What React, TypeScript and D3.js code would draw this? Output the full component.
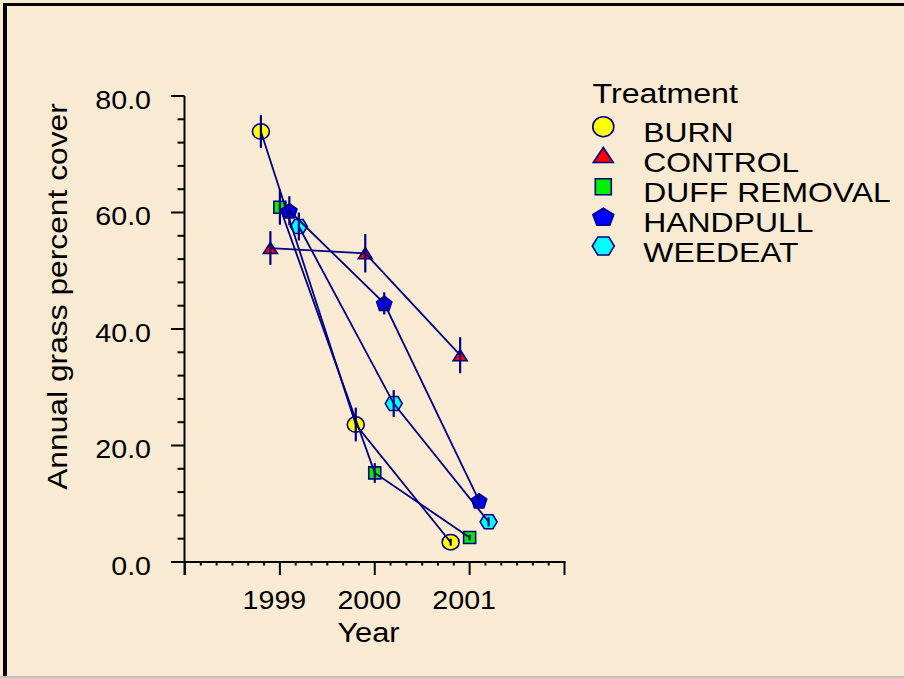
import React from "react";
import * as d3 from "d3";

const years = [1999, 2000, 2001];
const treatments = ["BURN", "CONTROL", "DUFF REMOVAL", "HANDPULL", "WEEDEAT"];
const burnMeans = [73.9, 23.6, 3.4];
const controlMeans = [53.9, 53.0, 35.5];
const duffMeans = [60.9, 15.3, 4.2];
const handpullMeans = [60.3, 44.4, 10.5];
const weedeatMeans = [57.6, 27.2, 6.9];
const burnErr = [2.8, 2.9, 0.6];
const controlErr = [2.9, 3.3, 3.1];
const duffErr = [3.0, 1.7, 0.5];
const handpullErr = [2.5, 1.9, 0.8];
const weedeatErr = [2.4, 2.3, 0.8];
const yTicks = [0, 20, 40, 60, 80];
const xTicks = [1998, 1999, 2000, 2001, 2002];

const means = [burnMeans, controlMeans, duffMeans, handpullMeans, weedeatMeans];
const errs = [burnErr, controlErr, duffErr, handpullErr, weedeatErr];
const fills = ["#FFFF00", "#FF0000", "#00F000", "#0000FF", "#00FFFF"];
const dodge = [-0.2, -0.1, 0, 0.1, 0.2];
const NAVY = "#000080";
const FONT = "'Liberation Sans', Arial, Helvetica, sans-serif";

const x = d3.scaleLinear().domain([1998, 2002]).range([185, 564.5]);
const y = d3.scaleLinear().domain([0, 80]).range([562, 96]);

function markerPath(kind: number, w: number, h: number): string {
  const hw = w / 2, hh = h / 2;
  if (kind === 1) return `M0,${-hh}L${hw},${hh}L${-hw},${hh}Z`;
  if (kind === 2) return `M${-hw},${-hh}H${hw}V${hh}H${-hw}Z`;
  if (kind === 3) {
    const pts = d3.range(5).map((i) => {
      const a = -Math.PI / 2 + (i * 2 * Math.PI) / 5;
      return [Math.cos(a) * hw, Math.sin(a) * hh * 1.05 + hh * 0.1];
    });
    return "M" + pts.map((p) => p.join(",")).join("L") + "Z";
  }
  if (kind === 4) {
    return `M${-hw},0L${-hw / 2},${-hh}L${hw / 2},${-hh}L${hw},0L${hw / 2},${hh}L${-hw / 2},${hh}Z`;
  }
  return "";
}

function Marker({ kind, cx, cy, big }: { kind: number; cx: number; cy: number; big?: boolean }) {
  const sizes = big
    ? [[21, 20], [20, 15], [16, 16], [22, 18], [22, 18]]
    : [[17, 15.5], [14, 11], [12, 12], [16, 15], [17, 14]];
  const [w, h] = sizes[kind];
  if (kind === 0)
    return <ellipse cx={cx} cy={cy} rx={w / 2} ry={h / 2} fill={fills[0]} stroke={NAVY} strokeWidth={1.6} />;
  return (
    <path d={markerPath(kind, w, h)} transform={`translate(${cx},${cy})`} fill={fills[kind]} stroke={NAVY} strokeWidth={1.6} strokeLinejoin="miter" />
  );
}

function T({ x: tx, y: ty, size, sx, anchor, rotate, children }: any) {
  return (
    <text
      transform={`translate(${tx},${ty})${rotate ? " rotate(-90)" : ""} scale(${sx},1)`}
      fontSize={size}
      fontFamily={FONT}
      textAnchor={anchor || "start"}
      fill="#000"
    >
      {children}
    </text>
  );
}

export default function App() {
  const line = d3.line<[number, number]>().x((d) => d[0]).y((d) => d[1]);
  const minorY = d3.range(0, 80.001, 4).filter((v) => v % 20 !== 0);
  const minorX = d3.range(1998, 2002.001, 1 / 6).filter((v) => Math.abs(v - Math.round(v)) > 0.01);
  const legendY = [126.7, 155, 186.7, 216.7, 246];
  const legendBase = [142.3, 171.8, 201.7, 231.7, 261.7];

  return (
    <svg width={904} height={678} style={{ position: "absolute", left: 0, top: 0 }}>
      <rect x={0} y={0} width={904} height={678} fill="#F9EBD3" />
      <rect x={0} y={676} width={904} height={2} fill="#C0C0C0" />
      <rect x={3} y={3} width={901} height={3} fill="#000" />
      <rect x={3} y={3} width={4} height={673} fill="#000" />

      {/* axes */}
      <g stroke="#000" strokeWidth={2} fill="none">
        <line x1={184.5} x2={184.5} y1={y(80)} y2={y(0) + 13} />
        <line x1={171} x2={x(2002) + 1} y1={y(0)} y2={y(0)} />
        {yTicks.map((v) => (
          <line key={"yt" + v} x1={171} x2={184.5} y1={y(v)} y2={y(v)} />
        ))}
        {minorY.map((v) => (
          <line key={"ym" + v} x1={177.5} x2={184.5} y1={y(v)} y2={y(v)} />
        ))}
        {xTicks.map((v) => (
          <line key={"xt" + v} x1={x(v)} x2={x(v)} y1={y(0)} y2={y(0) + 13} />
        ))}
        {minorX.map((v, i) => (
          <line key={"xm" + i} x1={x(v)} x2={x(v)} y1={y(0)} y2={y(0) + 3.5} />
        ))}
      </g>

      {yTicks.map((v) => (
        <T key={"yl" + v} x={151} y={y(v) + 12.5} size={26} sx={1.1} anchor="end">
          {d3.format(".1f")(v)}
        </T>
      ))}
      {years.map((v) => (
        <T key={"xl" + v} x={x(v) - 5.5} y={609} size={26} sx={1.1} anchor="middle">
          {String(v)}
        </T>
      ))}
      <T x={368.5} y={641.5} size={28} sx={1.1} anchor="middle">Year</T>
      <T x={67} y={296.5} size={28} sx={1.135} anchor="middle" rotate>
        Annual grass percent cover
      </T>

      {/* markers */}
      {means.map((ser, k) =>
        ser.map((v, i) => <Marker key={`m${k}-${i}`} kind={k} cx={x(years[i] + dodge[k])} cy={y(v)} />)
      )}
      {/* lines and error bars */}
      <g stroke={NAVY} fill="none">
        {means.map((ser, k) => (
          <path
            key={"ln" + k}
            d={line(ser.map((v, i) => [x(years[i] + dodge[k]), y(v)]) as [number, number][]) || ""}
            strokeWidth={1.8}
          />
        ))}
        {means.map((ser, k) =>
          ser.map((v, i) => (
            <line
              key={`e${k}-${i}`}
              x1={x(years[i] + dodge[k])}
              x2={x(years[i] + dodge[k])}
              y1={y(v + errs[k][i])}
              y2={y(v - errs[k][i])}
              strokeWidth={2.2}
            />
          ))
        )}
      </g>

      {/* legend */}
      <T x={592.5} y={103} size={28} sx={1.15}>Treatment</T>
      {treatments.map((t, k) => (
        <g key={"lg" + t}>
          <Marker kind={k} cx={603.3} cy={legendY[k]} big />
          <T x={643.3} y={legendBase[k]} size={27.5} sx={1.16}>{t}</T>
        </g>
      ))}
    </svg>
  );
}
